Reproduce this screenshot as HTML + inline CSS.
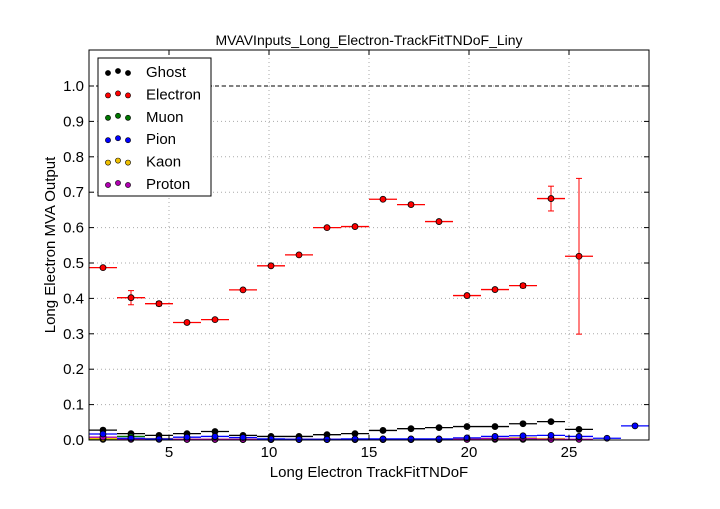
<!DOCTYPE html>
<html><head><meta charset="utf-8"><style>
body{margin:0;background:#fff;width:720px;height:504px;overflow:hidden;font-family:"Liberation Sans","DejaVu Sans",sans-serif}
</style></head><body>
<svg id="chart" width="720" height="504" xmlns="http://www.w3.org/2000/svg" font-family="Liberation Sans, DejaVu Sans, sans-serif">
<rect width="720" height="504" fill="#fff"/>
<text x="369" y="45" text-anchor="middle" font-size="14">MVAVInputs_Long_Electron-TrackFitTNDoF_Liny</text>
<text x="369" y="477" text-anchor="middle" font-size="15">Long Electron TrackFitTNDoF</text>
<text transform="translate(55,245) rotate(-90)" text-anchor="middle" font-size="15">Long Electron MVA Output</text>
<g id="grid"></g><g id="marks"></g><g id="axes"></g>
<rect x="89" y="50" width="560" height="390" fill="none" stroke="#000" stroke-width="1"/>
<g id="legend"></g>
</svg>
<script>
const binCenters=[1.7,3.1,4.5,5.9,7.3,8.7,10.1,11.5,12.9,14.3,15.7,17.1,18.5,19.9,21.3,22.7,24.1,25.5,26.9,28.3];
const ghost=[0.028,0.018,0.013,0.018,0.024,0.013,0.010,0.010,0.015,0.018,0.027,0.032,0.035,0.038,0.038,0.046,0.052,0.030,null,null];
const electron=[0.487,0.402,0.385,0.332,0.340,0.424,0.492,0.523,0.600,0.603,0.680,0.665,0.617,0.408,0.425,0.436,0.682,0.519,null,null];
const electronErr=[0.004,0.02,0.006,0.004,0.004,0.004,0.004,0.004,0.004,0.004,0.004,0.004,0.004,0.004,0.005,0.006,0.035,0.22,0,0];
const muon=[0.002,0.010,0.003,0.002,0.002,0.002,0.002,0.001,0.001,0.001,0.001,0.001,0.001,0.003,0.002,0.002,0.002,null,null,null];
const pion=[0.017,0.005,0.003,0.008,0.010,0.007,0.003,0.002,0.002,0.003,0.003,0.003,0.003,0.006,0.010,0.012,0.013,0.010,0.005,0.040];
const kaon=[0.004,0.003,0.004,0.002,0.002,0.001,0.001,0.002,0.002,0.002,0.002,0.002,0.002,0.002,0.004,0.006,0.004,null,null,null];
const proton=[0.008,0.002,0.002,0.002,0.002,0.002,0.002,0.002,0.002,0.002,0.002,0.002,0.002,0.002,0.004,0.004,0.002,0.002,null,null];
const xTicks=[5,10,15,20,25];
const yTicks=[0,0.1,0.2,0.3,0.4,0.5,0.6,0.7,0.8,0.9,1.0];
const binHalf=0.7;
const X=v=>89+(v-1)*20, Y=v=>440-v*354;
const NS="http://www.w3.org/2000/svg";
function mk(p,t,a){const e=document.createElementNS(NS,t);for(const k in a)e.setAttribute(k,a[k]);p.appendChild(e);return e;}
const grid=document.getElementById('grid'),axes=document.getElementById('axes'),marks=document.getElementById('marks');
xTicks.forEach(t=>{
 const l=mk(grid,'line',{x1:X(t),x2:X(t),y1:50,y2:440,stroke:'#aaa','stroke-dasharray':'1,3'});
 
 mk(axes,'line',{x1:X(t),x2:X(t),y1:440,y2:435,stroke:'#000'});mk(axes,'line',{x1:X(t),x2:X(t),y1:50,y2:55,stroke:'#000'});
 const tx=mk(axes,'text',{x:X(t),y:457,'text-anchor':'middle','font-size':15});tx.textContent=t;
 
});
yTicks.forEach(t=>{
 const l=mk(grid,'line',{x1:89,x2:649,y1:Y(t),y2:Y(t),stroke:'#aaa','stroke-dasharray':'1,3'});
 
 mk(axes,'line',{x1:89,x2:94,y1:Y(t),y2:Y(t),stroke:'#000'});mk(axes,'line',{x1:649,x2:644,y1:Y(t),y2:Y(t),stroke:'#000'});
 const tx=mk(axes,'text',{x:84,y:Y(t)+5,'text-anchor':'end','font-size':15});tx.textContent=t.toFixed(1);
 
});
const ref=mk(grid,'line',{x1:89,x2:649,y1:Y(1),y2:Y(1),stroke:'#000','stroke-dasharray':'4,3'});

const series=[['ghost',ghost,'#000',null],['muon',muon,'#007700',null],['kaon',kaon,'#f0c000',null],['proton',proton,'#b000b0',null],['pion',pion,'#0000ff',null],['electron',electron,'#ff0000',electronErr]];
series.forEach(([name,vals,col,err])=>{
 const g=mk(marks,'g',{});
 
 vals.forEach((v,i)=>{
  if(v===null)return;const c=binCenters[i];
  mk(g,'line',{x1:X(c-binHalf),x2:X(c+binHalf),y1:Y(v),y2:Y(v),stroke:col,'stroke-width':1.3});
  if(err&&err[i]>0.005){mk(g,'line',{x1:X(c),x2:X(c),y1:Y(v-err[i]),y2:Y(v+err[i]),stroke:col});
   mk(g,'line',{x1:X(c)-3,x2:X(c)+3,y1:Y(v-err[i]),y2:Y(v-err[i]),stroke:col});mk(g,'line',{x1:X(c)-3,x2:X(c)+3,y1:Y(v+err[i]),y2:Y(v+err[i]),stroke:col});}
  const p=mk(g,'circle',{cx:X(c),cy:Y(v),r:3,fill:col,stroke:'#000','stroke-width':0.8});
  
 });
});
const leg=document.getElementById('legend');
mk(leg,'rect',{x:98,y:58,width:113,height:138,fill:'#fff',stroke:'#000'});
const names=['Ghost','Electron','Muon','Pion','Kaon','Proton'],cols=['#000','#ff0000','#007700','#0000ff','#f0c000','#b000b0'];
names.forEach((n,i)=>{
 const y=72+i*22.4;const e=mk(leg,'g',{});
 
 [108,118,128].forEach((x,j)=>mk(e,'circle',{cx:x,cy:y+(j==1?-1:1),r:2.6,fill:cols[i],stroke:'#000','stroke-width':0.6}));
 const t=mk(e,'text',{x:146,y:y+5,'font-size':15});t.textContent=n;
});
</script>
</body></html>
